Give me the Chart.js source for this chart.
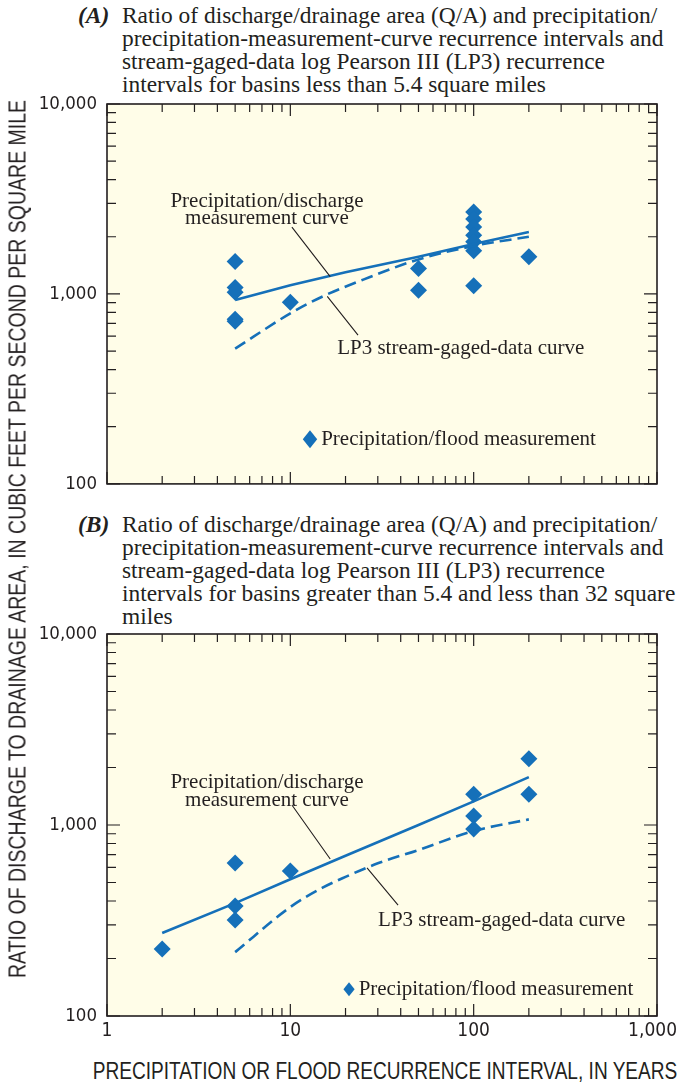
<!DOCTYPE html>
<html>
<head>
<meta charset="utf-8">
<script src="https://cdn.jsdelivr.net/npm/chart.js@4.4.0/dist/chart.umd.min.js"></script>
<style>
  html, body { margin: 0; padding: 0; background: #fff; }
  body { width: 678px; height: 1087px; position: relative; overflow: hidden; }
  .title { position: absolute; left: 0; font-family: "Liberation Serif", "Times New Roman", serif;
           font-size: 23.5px; line-height: 23px; color: #231f20; white-space: nowrap; }
  .title .tag { position: absolute; left: 78px; top: 0; font-weight: bold; font-style: italic; }
  .title .lines { position: absolute; left: 122px; top: 0; transform-origin: 0 0; }
  .axis { position: absolute; font-family: "Liberation Sans", Arial, sans-serif;
          font-size: 23px; line-height: 23px; color: #231f20; white-space: nowrap; }
  canvas { position: absolute; left: 0; }
</style>
</head>
<body>

<div class="title" style="top:4px">
  <span class="tag">(A)</span>
  <div class="lines fit">Ratio of discharge/drainage area (Q/A) and precipitation/<br>precipitation-measurement-curve recurrence intervals and<br>stream-gaged-data log Pearson III (LP3) recurrence<br>intervals for basins less than 5.4 square miles</div>
</div>

<div class="title" style="top:513px">
  <span class="tag">(B)</span>
  <div class="lines fit">Ratio of discharge/drainage area (Q/A) and precipitation/<br>precipitation-measurement-curve recurrence intervals and<br>stream-gaged-data log Pearson III (LP3) recurrence<br>intervals for basins greater than 5.4 and less than 32 square<br>miles</div>
</div>

<canvas id="chartA" width="700" height="430" style="top:75px;width:700px;height:430px"></canvas>
<canvas id="chartB" width="700" height="450" style="top:600px;width:700px;height:450px"></canvas>

<div class="axis" id="yTitle" style="left:17.5px;top:539px">RATIO OF DISCHARGE TO DRAINAGE AREA, IN CUBIC FEET PER SECOND PER SQUARE MILE</div>
<div class="axis" id="xTitle" style="left:384.5px;top:1071px">PRECIPITATION OR FLOOD RECURRENCE INTERVAL, IN YEARS</div>

<script>
// axis labels
var xTickYears = [1, 10, 100, 1000];
var yTickRatio = [100, 1000, 10000];

// (A) basins less than 5.4 square miles
var aObsYears = [5, 5, 5, 5, 5, 10, 50, 50, 100, 100, 100, 100, 100, 100, 100, 200];
var aObsRatio = [1480, 1080, 1020, 735, 718, 905, 1360, 1045, 2700, 2480, 2250, 2040, 1880, 1690, 1105, 1570];
var aPrecipYears = [5, 10, 20, 50, 100, 200];
var aPrecipRatio = [930, 1110, 1300, 1570, 1830, 2120];
var aLp3Years = [5, 10, 15, 25, 50, 100, 200];
var aLp3Ratio = [515, 790, 970, 1190, 1520, 1790, 2000];

// (B) basins greater than 5.4 and less than 32 square miles
var bObsYears = [2, 5, 5, 5, 10, 100, 100, 100, 200, 200];
var bObsRatio = [224, 632, 377, 318, 574, 1450, 1115, 953, 2220, 1450];
var bPrecipYears = [2, 5, 10, 20, 50, 100, 200];
var bPrecipRatio = [272, 390, 520, 690, 1000, 1330, 1780];
var bLp3Years = [5, 10, 15, 20, 30, 50, 100, 200];
var bLp3Ratio = [216, 372, 470, 535, 630, 740, 930, 1070];

var BLUE = '#1570b9';
var INK = '#231f20';
var PLOT_BG = '#fffde8';
var SERIF = '"Liberation Serif", "Times New Roman", serif';
var SANS = '"DejaVu Sans Condensed", "Liberation Sans", sans-serif';

function zip(xs, ys) {
    return xs.map(function (x, i) { return { x: x, y: ys[i] }; });
}

function isDecade(v) {
    var l = Math.log10(v);
    return Math.abs(l - Math.round(l)) < 1e-9;
}

// 1..9 x 10^n between min and max, the usual log-paper ticks
function logTicks(scale) {
    var out = [];
    for (var d = scale.min; d < scale.max; d *= 10) {
        for (var m = 1; m < 10; m++) out.push({ value: d * m });
    }
    out.push({ value: scale.max });
    scale.ticks = out;
}

// background, frame, inward ticks on all four sides, x labels
var frame = {
    id: 'frame',
    beforeDraw: function (chart) {
        var a = chart.chartArea, ctx = chart.ctx;
        ctx.save();
        ctx.fillStyle = PLOT_BG;
        ctx.fillRect(a.left, a.top, a.width, a.height);
        ctx.restore();
    },
    afterDraw: function (chart, args, opts) {
        var a = chart.chartArea, ctx = chart.ctx, sx = chart.scales.x, sy = chart.scales.y;
        ctx.save();
        ctx.strokeStyle = INK;
        ctx.lineWidth = 1.2;
        ctx.beginPath();
        sx.ticks.forEach(function (t) {
            var px = sx.getPixelForValue(t.value), len = isDecade(t.value) ? 12 : 8;
            ctx.moveTo(px, a.bottom); ctx.lineTo(px, a.bottom - len);
            ctx.moveTo(px, a.top); ctx.lineTo(px, a.top + len);
        });
        sy.ticks.forEach(function (t) {
            var py = sy.getPixelForValue(t.value), len = isDecade(t.value) ? 13 : 9;
            ctx.moveTo(a.left, py); ctx.lineTo(a.left + len, py);
            ctx.moveTo(a.right, py); ctx.lineTo(a.right - len, py);
        });
        ctx.stroke();
        ctx.lineWidth = 1.6;
        ctx.strokeRect(a.left, a.top, a.width, a.height);

        // x labels: kept inside the page at the right edge as in the figure
        if (opts.xLabels) {
            ctx.fillStyle = INK;
            ctx.font = '19px ' + SANS;
            ctx.textAlign = 'center';
            ctx.textBaseline = 'top';
            xTickYears.forEach(function (v) {
                var s = v.toLocaleString('en-US'), w = ctx.measureText(s).width;
                var px = Math.min(sx.getPixelForValue(v), a.right + 20 - w / 2);
                ctx.fillText(s, px, a.bottom + 6);
            });
        }
        ctx.restore();
    }
};

// curve labels, leader lines and the point key, placed in data coordinates
var notes = {
    id: 'notes',
    afterDatasetsDraw: function (chart, args, opts) {
        var ctx = chart.ctx, sx = chart.scales.x, sy = chart.scales.y;
        function P(p) { return [sx.getPixelForValue(p[0]), sy.getPixelForValue(p[1])]; }
        ctx.save();
        ctx.fillStyle = INK;
        ctx.strokeStyle = INK;
        ctx.font = '21px ' + SERIF;
        ctx.textBaseline = 'middle';
        opts.texts.forEach(function (t) {
            var p = P(t.at);
            ctx.textAlign = t.align;
            ctx.fillText(t.text, p[0], p[1]);
        });
        ctx.lineWidth = 1.1;
        ctx.beginPath();
        opts.leaders.forEach(function (l) {
            var p = P(l[0]), q = P(l[1]);
            ctx.moveTo(p[0], p[1]); ctx.lineTo(q[0], q[1]);
        });
        ctx.stroke();
        var k = P(opts.key.at), r = opts.key.r;
        ctx.fillStyle = BLUE;
        ctx.beginPath();
        ctx.moveTo(k[0], k[1] - r); ctx.lineTo(k[0] + r * 0.8, k[1]);
        ctx.lineTo(k[0], k[1] + r); ctx.lineTo(k[0] - r * 0.8, k[1]);
        ctx.closePath();
        ctx.fill();
        ctx.fillStyle = INK;
        ctx.textAlign = 'left';
        ctx.fillText('Precipitation/flood measurement', k[0] + r * 0.8 + 4, k[1]);
        ctx.restore();
    }
};

function makeChart(id, obsX, obsY, curX, curY, lpX, lpY, opt) {
    return new Chart(document.getElementById(id), {
        type: 'scatter',
        data: {
            datasets: [{
                label: 'Precipitation/discharge measurement curve',
                data: zip(curX, curY),
                showLine: true,
                borderColor: BLUE,
                borderWidth: 2.6,
                pointRadius: 0,
                order: 1
            }, {
                label: 'LP3 stream-gaged-data curve',
                data: zip(lpX, lpY),
                showLine: true,
                borderColor: BLUE,
                borderWidth: 2.6,
                borderDash: [12, 6],
                pointRadius: 0,
                cubicInterpolationMode: 'monotone',
                order: 2
            }, {
                label: 'Precipitation/flood measurement',
                data: zip(obsX, obsY),
                pointStyle: 'rectRot',
                pointRadius: 8.5,
                backgroundColor: BLUE,
                borderColor: BLUE,
                borderWidth: 0,
                order: 3
            }]
        },
        options: {
            responsive: false,
            animation: false,
            events: [],
            layout: { padding: { top: opt.padTop, right: 43, left: 0, bottom: 0 } },
            plugins: {
                legend: { display: false },
                tooltip: { enabled: false },
                frame: { xLabels: opt.xLabels },
                notes: opt.notes
            },
            scales: {
                x: {
                    type: 'logarithmic',
                    min: xTickYears[0],
                    max: xTickYears[xTickYears.length - 1],
                    afterBuildTicks: logTicks,
                    afterFit: function (s) { s.height = opt.xHeight; },
                    grid: { display: false, drawTicks: false },
                    border: { display: false },
                    ticks: { display: false }
                },
                y: {
                    type: 'logarithmic',
                    min: yTickRatio[0],
                    max: yTickRatio[yTickRatio.length - 1],
                    afterBuildTicks: logTicks,
                    afterFit: function (s) { s.width = 107; },
                    grid: { display: false, drawTicks: false },
                    border: { display: false },
                    ticks: {
                        autoSkip: false,
                        padding: 10,
                        color: INK,
                        font: { family: SANS, size: 18.5 },
                        callback: function (v) {
                            return yTickRatio.indexOf(v) >= 0 ? v.toLocaleString('en-US') : '';
                        }
                    }
                }
            }
        },
        plugins: [frame, notes]
    });
}

makeChart('chartA', aObsYears, aObsRatio, aPrecipYears, aPrecipRatio, aLp3Years, aLp3Ratio, {
    padTop: 29, xHeight: 18, xLabels: false,
    notes: {
        texts: [
            { text: 'Precipitation/discharge', at: [7.46, 3076], align: 'center' },
            { text: 'measurement curve', at: [7.46, 2510], align: 'center' },
            { text: 'LP3 stream-gaged-data curve', at: [18.0, 519], align: 'left' }
        ],
        leaders: [[[10.2, 2250], [16.5, 1234]], [[15.9, 970], [23.4, 607]]],
        key: { at: [12.8, 172], r: 9 }
    }
});

makeChart('chartB', bObsYears, bObsRatio, bPrecipYears, bPrecipRatio, bLp3Years, bLp3Ratio, {
    padTop: 34, xHeight: 34, xLabels: true,
    notes: {
        texts: [
            { text: 'Precipitation/discharge', at: [7.46, 1660], align: 'center' },
            { text: 'measurement curve', at: [7.46, 1336], align: 'center' },
            { text: 'LP3 stream-gaged-data curve', at: [30.1, 318], align: 'left' }
        ],
        leaders: [[[10.2, 1273], [16.5, 664]], [[26.2, 596], [38.7, 381]]],
        key: { at: [20.9, 138], r: 7 }
    }
});

// stretch text blocks to the widths they take in the figure
function fitWidth(el, target, extra) {
    var k = target / el.offsetWidth;
    el.style.transform = (extra || '') + ' scaleX(' + k + ')';
}
document.querySelectorAll('.fit').forEach(function (el) {
    var probe = document.createElement('span');
    probe.style.font = getComputedStyle(el).font;
    probe.style.whiteSpace = 'nowrap';
    probe.style.position = 'absolute';
    probe.style.visibility = 'hidden';
    probe.textContent = 'Ratio of discharge/drainage area (Q/A) and precipitation/';
    document.body.appendChild(probe);
    el.style.transform = 'scaleX(' + (535 / probe.offsetWidth) + ')';
    probe.remove();
});
fitWidth(document.getElementById('yTitle'), 878, 'translate(-50%, -50%) rotate(-90deg)');
fitWidth(document.getElementById('xTitle'), 585, 'translate(-50%, -50%)');
</script>
</body>
</html>
